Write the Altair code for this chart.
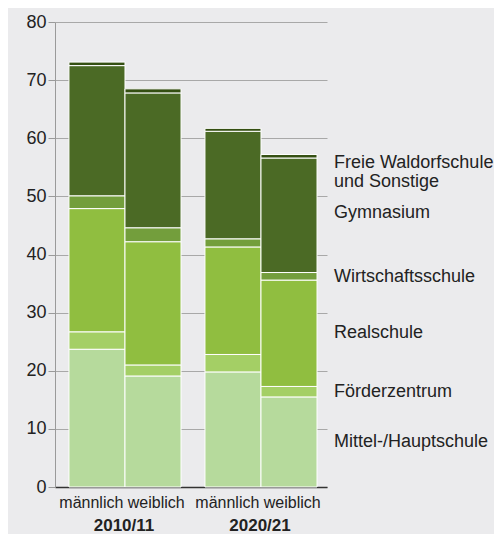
import altair as alt
import pandas as pd

years = ["2010/11", "2020/21"]
sexes = ["männlich", "weiblich"]
schools = ["Mittel-/Hauptschule", "Förderzentrum", "Realschule",
           "Wirtschaftsschule", "Gymnasium", "Freie Waldorfschule und Sonstige"]
# bar order: 2010/11 m, 2010/11 w, 2020/21 m, 2020/21 w
mittel = [23.7, 19.1, 19.8, 15.5]
foerder = [3.0, 1.9, 3.0, 1.8]
real = [21.2, 21.2, 18.5, 18.3]
wirt = [2.2, 2.4, 1.4, 1.3]
gym = [22.4, 23.2, 18.5, 19.7]
freie = [0.6, 0.7, 0.5, 0.6]
colors = ["#b6da9c", "#a4cf65", "#90be40", "#739e3c", "#4b6a25", "#344f12"]

right_labels = ["Mittel-/Hauptschule", "Förderzentrum", "Realschule",
                "Wirtschaftsschule", "Gymnasium", "Freie Waldorfschule\nund Sonstige"]
right_label_y = [7.8, 16.4, 26.5, 36.2, 47.1, 55.7]
sex_label = "männlich weiblich"

series = [mittel, foerder, real, wirt, gym, freie]
rows = []
for si, (school, vals) in enumerate(zip(schools, series)):
    k = 0
    for y in years:
        for s in sexes:
            rows.append({"year": y, "sex": s, "school": school, "value": vals[k], "ord": si})
            k += 1
df = pd.DataFrame(rows)

W, H = 272, 465
bg = "#ebebed"

xscale = alt.Scale(domain=years, paddingInner=0.176, paddingOuter=0.088, align=0.583)

bars = alt.Chart(df).mark_bar(stroke="white", strokeWidth=1).encode(
    x=alt.X("year:N", scale=xscale,
            axis=alt.Axis(title=None, labels=False, ticks=False, domain=True,
                          domainColor="#333333", domainWidth=1.5, grid=False)),
    xOffset=alt.XOffset("sex:N", scale=alt.Scale(domain=sexes, paddingInner=0, paddingOuter=0)),
    y=alt.Y("value:Q", stack="zero",
            scale=alt.Scale(domain=[0, 80], nice=False),
            axis=alt.Axis(title=None, values=list(range(0, 81, 10)), labelFontSize=18,
                          labelColor="#222222", labelFont="Liberation Sans",
                          tickColor="#9a9a9a", tickSize=7, labelPadding=2,
                          domainColor="#9a9a9a", gridColor="#a8a8a8", gridWidth=1)),
    color=alt.Color("school:N", scale=alt.Scale(domain=schools, range=colors), legend=None),
    order=alt.Order("ord:Q", sort="ascending"),
)

lab_df = pd.DataFrame({"text": right_labels, "y": right_label_y})
right = alt.Chart(lab_df).mark_text(
    align="left", baseline="middle", fontSize=18, font="Liberation Sans",
    color="#222222", lineBreak="\n", lineHeight=19
).encode(
    x=alt.value(W + 7),
    y=alt.Y("y:Q"),
    text="text:N",
)

sex_df = pd.DataFrame({"year": years, "text": [sex_label] * len(years)})
sexlab = alt.Chart(sex_df).mark_text(
    align="center", baseline="alphabetic", fontSize=16, font="Liberation Sans",
    color="#222222", dx=-3
).encode(x=alt.X("year:N"), y=alt.value(H + 21), text="text:N")

yearlab = alt.Chart(sex_df).mark_text(
    align="center", baseline="alphabetic", fontSize=17, font="Liberation Sans",
    fontWeight="bold", color="#222222", dx=-1
).encode(x=alt.X("year:N"), y=alt.value(H + 44), text="year:N")

chart = alt.layer(bars, right, sexlab, yearlab).properties(
    width=W, height=H, background=bg,
    autosize=alt.AutoSizeParams(type="none"),
    padding={"left": 47, "top": 14, "right": 167, "bottom": 47},
).configure_view(stroke=None, fill=bg)

chart.save("out.html", embed_options={"renderer": "svg", "actions": False})
